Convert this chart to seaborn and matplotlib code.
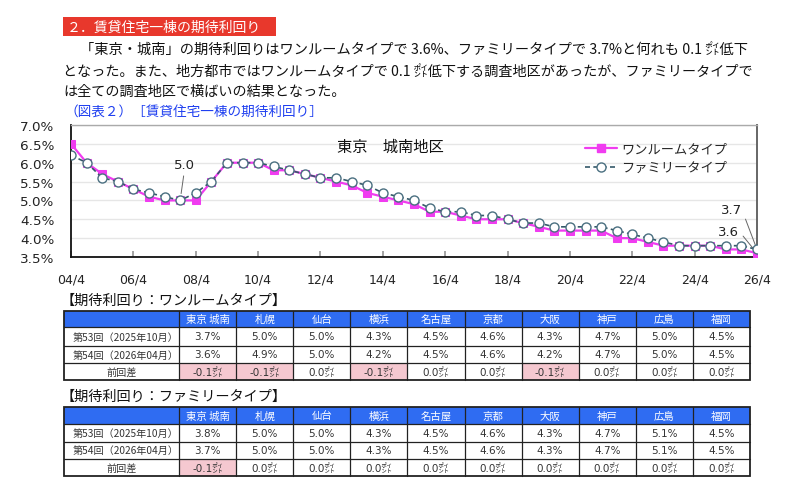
import matplotlib
matplotlib.use("Agg")
import matplotlib.pyplot as plt
from matplotlib.patches import Rectangle
from matplotlib.lines import Line2D
import seaborn as sns
import pandas as pd

# ---------------- data ----------------
periods = ["04/4", "04/10", "05/4", "05/10", "06/4", "06/10", "07/4", "07/10", "08/4", "08/10",
           "09/4", "09/10", "10/4", "10/10", "11/4", "11/10", "12/4", "12/10", "13/4", "13/10",
           "14/4", "14/10", "15/4", "15/10", "16/4", "16/10", "17/4", "17/10", "18/4", "18/10",
           "19/4", "19/10", "20/4", "20/10", "21/4", "21/10", "22/4", "22/10", "23/4", "23/10",
           "24/4", "24/10", "25/4", "25/10", "26/4"]
oneroom = [6.5, 6.0, 5.7, 5.5, 5.3, 5.1, 5.0, 5.0, 5.0, 5.5,
           6.0, 6.0, 6.0, 5.8, 5.8, 5.7, 5.6, 5.5, 5.4, 5.2,
           5.1, 5.0, 4.9, 4.7, 4.7, 4.6, 4.5, 4.5, 4.5, 4.4,
           4.3, 4.2, 4.2, 4.2, 4.2, 4.0, 4.0, 3.9, 3.8, 3.8,
           3.8, 3.8, 3.7, 3.7, 3.6]
family = [6.2, 6.0, 5.6, 5.5, 5.3, 5.2, 5.1, 5.0, 5.2, 5.5,
          6.0, 6.0, 6.0, 5.9, 5.8, 5.7, 5.6, 5.6, 5.5, 5.4,
          5.2, 5.1, 5.0, 4.8, 4.7, 4.7, 4.6, 4.6, 4.5, 4.4,
          4.4, 4.3, 4.3, 4.3, 4.3, 4.2, 4.1, 4.0, 3.9, 3.8,
          3.8, 3.8, 3.8, 3.8, 3.7]
xtick_labels = ["04/4", "06/4", "08/4", "10/4", "12/4", "14/4", "16/4", "18/4", "20/4",
                "22/4", "24/4", "26/4"]
ytick_values = [3.5, 4.0, 4.5, 5.0, 5.5, 6.0, 6.5, 7.0]
series_names = ["ワンルームタイプ", "ファミリータイプ"]

cities = ["東京 城南", "札幌", "仙台", "横浜", "名古屋", "京都", "大阪", "神戸", "広島", "福岡"]
row_labels = ["第53回（2025年10月）", "第54回（2026年04月）", "前回差"]
oneroom_53 = [3.7, 5.0, 5.0, 4.3, 4.5, 4.6, 4.3, 4.7, 5.0, 4.5]
oneroom_54 = [3.6, 4.9, 5.0, 4.2, 4.5, 4.6, 4.2, 4.7, 5.0, 4.5]
oneroom_diff = [-0.1, -0.1, 0.0, -0.1, 0.0, 0.0, -0.1, 0.0, 0.0, 0.0]
family_53 = [3.8, 5.0, 5.0, 4.3, 4.5, 4.6, 4.3, 4.7, 5.1, 4.5]
family_54 = [3.7, 5.0, 5.0, 4.3, 4.5, 4.6, 4.3, 4.7, 5.1, 4.5]
family_diff = [-0.1, 0.0, 0.0, 0.0, 0.0, 0.0, 0.0, 0.0, 0.0, 0.0]

# ---------------- style ----------------
sns.set_theme(style="white")
JP = ["Noto Sans CJK JP", "DejaVu Sans"]
NUM = ["DejaVu Sans", "Noto Sans CJK JP"]
plt.rcParams["font.family"] = JP

MAGENTA = "#f03cf0"
TEAL = "#35596a"
BLUE_HDR = "#2f6cf2"
PINK = "#f5c8d0"
RED = "#e8382c"

fig = plt.figure(figsize=(8, 4.89), dpi=100)

# overlay in pixel coordinates for text and tables
ov = fig.add_axes([0, 0, 1, 1])
ov.set_xlim(0, 800)
ov.set_ylim(489, 0)
ov.axis("off")

ov.add_patch(Rectangle((63, 18), 213, 19, color=RED, lw=0))
ov.text(67, 27.5, "２．賃貸住宅一棟の期待利回り", color="white", fontsize=10, va="center", ha="left")

ov.text(80, 50, "「東京・城南」の期待利回りはワンルームタイプで 3.6%、ファミリータイプで 3.7%と何れも 0.1 ㌽低下",
        fontsize=10.25, va="center", ha="left", color="#111")
ov.text(63, 72, "となった。また、地方都市ではワンルームタイプで 0.1 ㌽低下する調査地区があったが、ファミリータイプで",
        fontsize=10.15, va="center", ha="left", color="#111")
ov.text(63, 92, "は全ての調査地区で横ばいの結果となった。",
        fontsize=10.15, va="center", ha="left", color="#111")
ov.text(64, 113, "（図表２）［賃貸住宅一棟の期待利回り］", fontsize=9.8, va="center", ha="left", color="#2040f0")

# ---------------- line chart ----------------
ax = fig.add_axes([71 / 800, (489 - 258) / 489, 686 / 800, 132 / 489])
idx = list(range(len(periods)))
df = pd.DataFrame({"idx": idx, "period": periods, "oneroom": oneroom, "family": family})

sns.lineplot(data=df, x="idx", y="oneroom", ax=ax, color=MAGENTA, lw=1.6, marker="s",
             markersize=5.5, markeredgecolor=MAGENTA, markerfacecolor=MAGENTA, zorder=3)
sns.lineplot(data=df, x="idx", y="family", ax=ax, color=TEAL, lw=1.2, linestyle=(0, (3, 2)),
             marker="o", markersize=6.5, markerfacecolor="white", markeredgecolor="#4a6f80",
             markeredgewidth=1.0, zorder=4)

ax.set_xlim(0, len(periods) - 1)
ax.set_ylim(ytick_values[0], ytick_values[-1])
ax.set_xticks([periods.index(p) for p in xtick_labels])
ax.set_xticklabels(xtick_labels, fontfamily=NUM, fontsize=9, color="#222")
ax.set_yticks(ytick_values)
ax.set_yticklabels([f"{v:.1f}%" for v in ytick_values], fontfamily=NUM, fontsize=9.7, color="#222")
ax.tick_params(axis="x", direction="in", length=4, color="#999", pad=11, bottom=True)
ax.tick_params(axis="y", length=0, pad=12)
ax.set_xlabel("")
ax.set_ylabel("")
ax.grid(axis="y", color="#e6e6e6", lw=1)
ax.set_axisbelow(True)
for s, c, w in [("left", "#111", 1.3), ("bottom", "#111", 1.3), ("top", "#aaa", 1.0), ("right", "#666", 1.4)]:
    ax.spines[s].set_color(c)
    ax.spines[s].set_linewidth(w)
    ax.spines[s].set_visible(True)

ax.text(0.466, 0.84, "東京　城南地区", transform=ax.transAxes, fontsize=11, ha="center", va="center", color="#111")

i_min = periods.index("07/10")
ax.annotate(f"{family[i_min]:.1f}", xy=(i_min, family[i_min]), xytext=(3, 21), textcoords="offset points",
            fontsize=9.5, fontfamily=NUM, ha="center", va="bottom", color="#222",
            arrowprops=dict(arrowstyle="-", color="#666", lw=0.7, shrinkA=1, shrinkB=5, relpos=(0.5, 0)))
last = len(periods) - 1
ax.annotate(f"{family[last]:.1f}", xy=(last, family[last]), xytext=(-11, 29), textcoords="offset points",
            fontsize=9.5, fontfamily=NUM, ha="right", va="center", color="#222",
            arrowprops=dict(arrowstyle="-", color="#666", lw=0.7, shrinkA=1, shrinkB=2, relpos=(1, 0.5)))
ax.annotate(f"{oneroom[last]:.1f}", xy=(last, oneroom[last]), xytext=(-13, 16), textcoords="offset points",
            fontsize=9.5, fontfamily=NUM, ha="right", va="center", color="#222",
            arrowprops=dict(arrowstyle="-", color="#666", lw=0.7, shrinkA=1, shrinkB=2, relpos=(1, 0.5)))

handles = [
    Line2D([], [], color=MAGENTA, lw=1.6, marker="s", markersize=5.5, markerfacecolor=MAGENTA, markeredgecolor=MAGENTA),
    Line2D([], [], color=TEAL, lw=1.2, linestyle=(0, (3, 2)), marker="o", markersize=6.5,
           markerfacecolor="white", markeredgecolor="#4a6f80"),
]
ax.legend(handles, series_names, loc="upper left", bbox_to_anchor=(580 / 800, 1 - 138 / 489),
          bbox_transform=fig.transFigure, frameon=False, fontsize=9.5, handlelength=2.4,
          handletextpad=0.3, labelspacing=0.45, borderaxespad=0)

# ---------------- tables ----------------
x_edges = [64, 179] + [179 + 57.1 * (k + 1) for k in range(len(cities))]


def fmt_diff(v):
    return f"{v:.1f}㌽"


def draw_table(title, ty, row_edges, r53, r54, diff):
    ov.text(61, ty, title, fontsize=10.2, ha="left", va="center", color="#111")
    top, bot = row_edges[0], row_edges[-1]
    ov.add_patch(Rectangle((x_edges[0], top), x_edges[-1] - x_edges[0], row_edges[1] - top,
                           color=BLUE_HDR, lw=0, zorder=1))
    for j, v in enumerate(diff):
        if v < 0:
            ov.add_patch(Rectangle((x_edges[j + 1], row_edges[3]), x_edges[j + 2] - x_edges[j + 1],
                                   row_edges[4] - row_edges[3], color=PINK, lw=0, zorder=1))
    for y in row_edges[1:-1]:
        ov.plot([x_edges[0], x_edges[-1]], [y, y], color="#222", lw=0.9, zorder=2)
    for x in x_edges[1:-1]:
        ov.plot([x, x], [top, bot], color="#222", lw=0.9, zorder=2)
    ov.add_patch(Rectangle((x_edges[0], top), x_edges[-1] - x_edges[0], bot - top,
                           fill=False, ec="#222", lw=1.3, zorder=3))
    cy = [(row_edges[i] + row_edges[i + 1]) / 2 for i in range(4)]
    for j, c in enumerate(cities):
        xc = (x_edges[j + 1] + x_edges[j + 2]) / 2
        ov.text(xc, cy[0], c, color="white", fontsize=7.5, ha="center", va="center", zorder=4)
        ov.text(xc, cy[1], f"{r53[j]:.1f}%", color="#333", fontsize=7.5, fontfamily=NUM,
                ha="center", va="center", zorder=4)
        ov.text(xc, cy[2], f"{r54[j]:.1f}%", color="#333", fontsize=7.5, fontfamily=NUM,
                ha="center", va="center", zorder=4)
        ov.text(xc, cy[3], fmt_diff(diff[j]), color="#333", fontsize=7.5, fontfamily=NUM,
                ha="center", va="center", zorder=4)
    ov.text(73, cy[1], row_labels[0], color="#333", fontsize=7.3, ha="left", va="center", zorder=4)
    ov.text(73, cy[2], row_labels[1], color="#333", fontsize=7.3, ha="left", va="center", zorder=4)
    ov.text((x_edges[0] + x_edges[1]) / 2, cy[3], row_labels[2], color="#333", fontsize=7.3,
            ha="center", va="center", zorder=4)


draw_table("【期待利回り：ワンルームタイプ】", 301, [312, 328, 347, 364, 381],
           oneroom_53, oneroom_54, oneroom_diff)
draw_table("【期待利回り：ファミリータイプ】", 397, [408, 425, 443, 459.5, 477],
           family_53, family_54, family_diff)

fig.savefig("out.png", dpi=100)
